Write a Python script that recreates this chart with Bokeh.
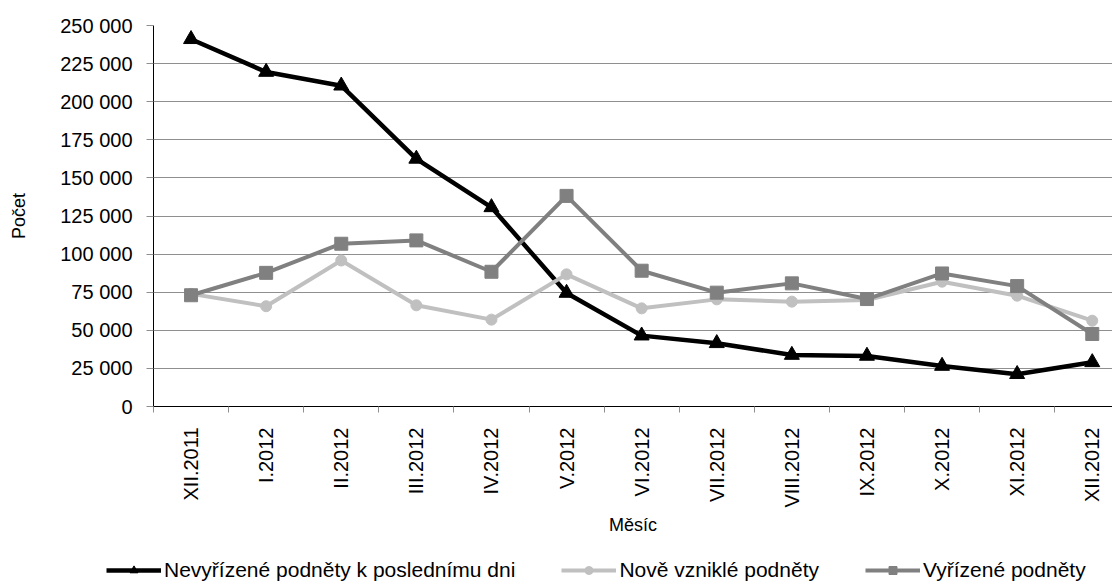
import math
from bokeh.plotting import figure
from bokeh.layouts import column
from bokeh.models import (Range1d, FixedTicker, Legend, LegendItem)
from bokeh.embed import file_html
from bokeh.resources import INLINE

months = ["XII.2011", "I.2012", "II.2012", "III.2012", "IV.2012", "V.2012",
          "VI.2012", "VII.2012", "VIII.2012", "IX.2012", "X.2012", "XI.2012", "XII.2012"]
nevyrizene = [241000, 219500, 210500, 162500, 130700, 74500, 46500, 41500,
              33800, 33200, 26600, 21200, 29000]
nove = [73900, 65800, 95800, 66400, 57000, 86700, 64400, 70300,
        68800, 69900, 81900, 72700, 56300]
vyrizene = [73000, 87700, 106800, 109000, 88400, 138200, 89100, 74700,
            80800, 70500, 87300, 79000, 47600]
series_names = ["Nevyřízené podněty k poslednímu dni", "Nově vzniklé podněty", "Vyřízené podněty"]
y_ticks = [0, 25000, 50000, 75000, 100000, 125000, 150000, 175000, 200000, 225000, 250000]
y_tick_labels = ["0", "25 000", "50 000", "75 000", "100 000", "125 000", "150 000",
                 "175 000", "200 000", "225 000", "250 000"]

xs = list(range(len(months)))
styles = [
    dict(color="black", width=4.5, marker="triangle", size=15),
    dict(color="#c0c0c0", width=4, marker="circle", size=11),
    dict(color="#808080", width=4, marker="square", size=13),
]
series = [nevyrizene, nove, vyrizene]

W = 1112
p = figure(width=W, height=548, output_backend="svg", toolbar_location=None,
           x_range=Range1d(-0.5, -0.5 + (W - 153) / 75.1), y_range=Range1d(0, 250000),
           min_border_left=153, min_border_top=25, min_border_bottom=142, min_border_right=0)
p.outline_line_color = None
p.background_fill_color = "white"

# grid
p.xgrid.grid_line_color = None
p.ygrid.grid_line_color = "#8f8f8f"
p.ygrid.grid_line_width = 1

# y axis
p.yaxis.ticker = FixedTicker(ticks=y_ticks)
p.yaxis.major_label_overrides = {t: l for t, l in zip(y_ticks, y_tick_labels)}
p.yaxis.axis_line_color = "black"
p.yaxis.major_tick_out = 7
p.yaxis.major_tick_in = 0
p.yaxis.major_tick_line_color = "#8f8f8f"
p.yaxis.minor_tick_line_color = None
p.yaxis.major_label_text_font = "Liberation Sans"
p.yaxis.major_label_text_font_size = "20px"
p.yaxis.major_label_text_color = "black"
p.yaxis.major_label_standoff = 14
p.yaxis.axis_label = "Počet"
p.yaxis.axis_label_text_font = "Liberation Sans"
p.yaxis.axis_label_text_font_size = "18px"
p.yaxis.axis_label_text_font_style = "normal"
p.yaxis.axis_label_text_color = "black"
p.yaxis.axis_label_standoff = 28

# x axis
p.xaxis.ticker = FixedTicker(ticks=xs, minor_ticks=[i - 0.5 for i in range(len(months) + 1)])
p.xaxis.major_label_overrides = {i: m for i, m in enumerate(months)}
p.xaxis.major_label_orientation = math.pi / 2
p.xaxis.axis_line_color = "black"
p.xaxis.major_tick_out = 0
p.xaxis.major_tick_in = 0
p.xaxis.minor_tick_out = 6
p.xaxis.minor_tick_in = 0
p.xaxis.minor_tick_line_color = "#8f8f8f"
p.xaxis.major_label_text_font = "Liberation Sans"
p.xaxis.major_label_text_font_size = "20px"
p.xaxis.major_label_text_color = "black"
p.xaxis.major_label_standoff = 15
p.xaxis.axis_label = "Měsíc"
p.xaxis.axis_label_text_font = "Liberation Sans"
p.xaxis.axis_label_text_font_size = "18px"
p.xaxis.axis_label_text_font_style = "normal"
p.xaxis.axis_label_text_color = "black"
p.xaxis.axis_label_standoff = 4

for vals, st in zip(series, styles):
    p.line(xs, vals, line_color=st["color"], line_width=st["width"])
    p.scatter(xs, vals, marker=st["marker"], size=st["size"],
              fill_color=st["color"], line_color=st["color"])

# legend strip (same series, plotted outside its visible range so only the legend shows)
leg = figure(width=W, height=40, output_backend="svg", toolbar_location=None,
             x_range=Range1d(1000, 1001), y_range=Range1d(0, 1),
             x_axis_location=None, y_axis_location=None,
             min_border=0, min_border_left=0, min_border_right=0,
             min_border_top=0, min_border_bottom=0)
try:
    leg.frame_align = False
except Exception:
    pass
leg.outline_line_color = None
leg.xgrid.visible = False
leg.ygrid.visible = False
items = []
for name, vals, st in zip(series_names, series, styles):
    lr = leg.line(xs, vals, line_color=st["color"], line_width=st["width"])
    sr = leg.scatter(xs, vals, marker=st["marker"], size=st["size"],
                     fill_color=st["color"], line_color=st["color"])
    items.append(LegendItem(label=name, renderers=[lr, sr]))
legend = Legend(items=items, location=(106, 6), orientation="horizontal",
                border_line_alpha=0, background_fill_alpha=0,
                glyph_width=55, glyph_height=20, label_standoff=3, spacing=46,
                padding=0, margin=0, label_height=20,
                label_text_font="Liberation Sans", label_text_font_size="21px",
                label_text_color="black")
leg.add_layout(legend, "center")

layout = column(p, leg, spacing=0)
open("out.html", "w").write(file_html(layout, INLINE))
